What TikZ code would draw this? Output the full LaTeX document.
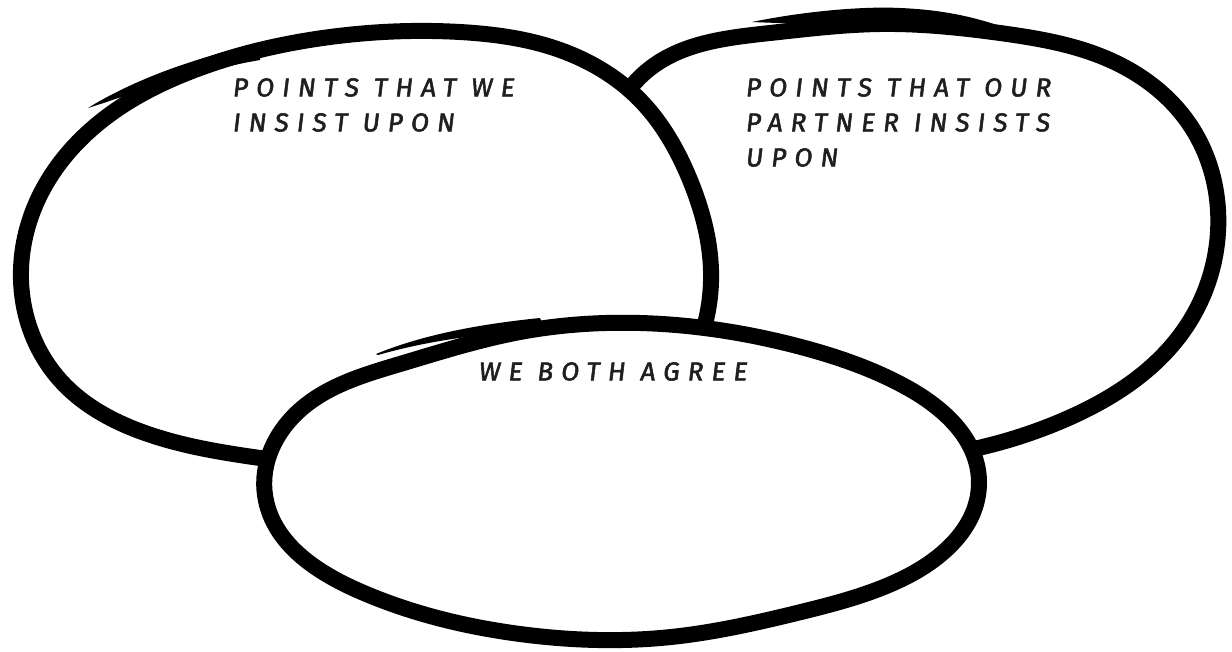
\documentclass[tikz,border=0pt]{standalone}
\usepackage{fontspec}
\usetikzlibrary{hobby}
\newfontfamily\handfont{Fira Sans}[FakeSlant=0.12,FakeBold=2,LetterSpace=31]
\tikzset{
  blob/.style={fill=white,draw=black,line width=16pt,line join=round},
  lbl/.style={font=\handfont\fontsize{26}{35}\selectfont,align=left,anchor=north west,inner sep=0pt,text=black!88}
}
\begin{document}
\begin{tikzpicture}[x=1pt,y=-1pt]
\useasboundingbox (0,0) rectangle (1232,651);
% right ellipse (partner)
\draw[blob] plot[closed hobby] coordinates {
  (598,160) (648,70) (770,33) (880,24) (1000,33) (1110,60) (1190,125)
  (1218,232) (1184,330) (1064,420) (900,460) (700,420) (605,300)};
\fill (752,22) .. controls (800,12) and (860,6) .. (900,8)
  .. controls (950,10) and (990,20) .. (1030,38)
  -- (1000,36) .. controls (950,28) and (850,26) .. (752,22) -- cycle;
% left ellipse (we)
\draw[blob] plot[closed hobby] coordinates {
  (21,280) (40,195) (100,122) (200,68) (330,37) (460,32) (560,50) (640,100)
  (690,180) (711,270) (700,340) (640,420) (520,460) (400,470) (260,458)
  (145,433) (60,380)};
\fill (88,108) .. controls (120,88) and (180,60) .. (260,44)
  -- (260,60) .. controls (180,74) and (130,95) .. (88,108) -- cycle;
% bottom ellipse (both agree)
\draw[blob] plot[closed hobby] coordinates {
  (265,495) (300,410) (400,364) (520,332) (640,323) (801,347) (906,387)
  (979,482) (906,577) (801,612) (671,637) (520,634) (357,590)};
\fill (376,354) .. controls (410,340) and (460,326) .. (540,318)
  -- (545,330) .. controls (470,334) and (420,343) .. (378,355) -- cycle;
% labels
\node[lbl] (we) at (232,78) {POINTS THAT WE\\INSIST UPON};
\node[lbl] (partner) at (745,78) {POINTS THAT OUR\\PARTNER INSISTS\\UPON};
\node[lbl] (both) at (478,362) {WE BOTH AGREE};
\end{tikzpicture}
\end{document}
